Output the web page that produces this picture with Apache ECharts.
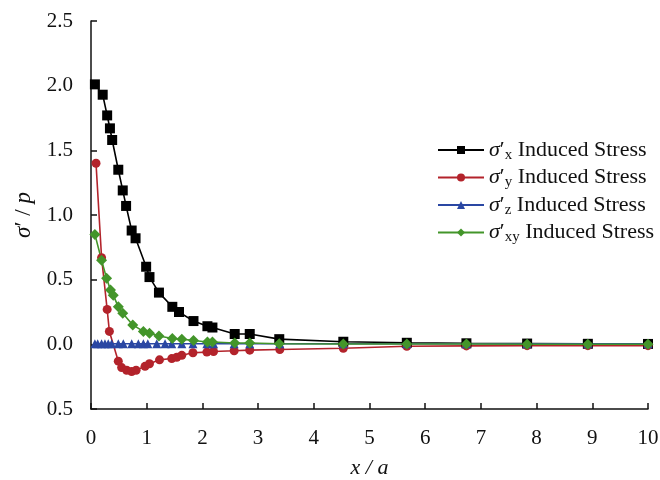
<!DOCTYPE html>
<html>
<head>
<meta charset="utf-8">
<script src="https://cdn.jsdelivr.net/npm/echarts@6/dist/echarts.min.js"></script>
<style>html,body{margin:0;padding:0;background:#fff}#main{width:660px;height:480px}</style>
</head>
<body>
<div id="main"></div>
<script>
// x/a positions and sigma'/p values
var xX = [0.07,0.21,0.29,0.34,0.38,0.49,0.57,0.63,0.73,0.80,0.99,1.05,1.22,1.46,1.58,1.84,2.09,2.18,2.58,2.85,3.38,4.53,5.67,6.74,7.83,8.92,10]
var sX = [2.01,1.93,1.77,1.67,1.58,1.35,1.19,1.07,0.88,0.82,0.60,0.52,0.40,0.29,0.25,0.18,0.14,0.13,0.08,0.08,0.04,0.02,0.012,0.008,0.006,0.004,0.003]

var xY = [0.09,0.19,0.29,0.33,0.49,0.55,0.64,0.73,0.81,0.97,1.05,1.23,1.45,1.54,1.63,1.83,2.08,2.2,2.57,2.85,3.39,4.53,5.67,6.74,7.83,8.92,10]
var sY = [1.40,0.67,0.27,0.10,-0.13,-0.18,-0.20,-0.21,-0.20,-0.17,-0.15,-0.12,-0.11,-0.10,-0.085,-0.065,-0.06,-0.055,-0.05,-0.045,-0.04,-0.03,-0.015,-0.012,-0.01,-0.01,-0.01]

var xZ = [0.07,0.12,0.19,0.25,0.31,0.37,0.49,0.58,0.73,0.85,0.94,1.02,1.18,1.33,1.45,1.63,1.83,2.08,2.2,2.57,2.85,3.39,4.53,5.67,6.74,7.83,8.92,10]
var sZ = [0.005,0.005,0.005,0.005,0.005,0.005,0.005,0.005,0.005,0.005,0.005,0.005,0.005,0.005,0.005,0.005,0.005,0.005,0.005,0.005,0.005,0.005,0.005,0.005,0.005,0.005,0.005,0.005]

var xXY = [0.07,0.19,0.28,0.35,0.40,0.49,0.57,0.75,0.94,1.05,1.22,1.46,1.63,1.84,2.09,2.18,2.58,2.85,3.38,4.53,5.67,6.74,7.83,8.92,10]
var sXY = [0.85,0.65,0.51,0.42,0.38,0.29,0.24,0.15,0.10,0.085,0.065,0.045,0.04,0.03,0.018,0.018,0.01,0.01,0.005,0.003,0.002,0.002,0.001,0.001,0.001]

var yTicks = ['0.5','0.0','0.5','1.0','1.5','2.0','2.5']
var subs = {sx: 'x', sy: 'y', sz: 'z', sxy: 'xy'}

function pairs(xs, ys) {
    var out = []
    for (var i = 0; i < xs.length; i++) out.push([xs[i], ys[i]])
    return out
}

var font = 'Liberation Serif'
var myChart = echarts.init(document.getElementById('main'))

function line(name, xs, ys, color, symbol, size) {
    return {
        name: name,
        type: 'line',
        data: pairs(xs, ys),
        symbol: symbol,
        symbolSize: size,
        lineStyle: {color: color, width: 1.6},
        itemStyle: {color: color},
        animation: false
    }
}

option = {
    backgroundColor: '#fff',
    grid: {left: 91, right: 12, top: 21, bottom: 71, containLabel: false, outerBoundsMode: 'none'},
    legend: {
        orient: 'vertical',
        left: 432,
        top: 134,
        itemWidth: 46,
        itemHeight: 10,
        itemGap: 4,
        data: ['sx', 'sy', 'sz', 'sxy'],
        formatter: function (n) {
            return '{s|σ}{p|′}{b|' + subs[n] + '} Induced Stress'
        },
        textStyle: {
            fontFamily: font, fontSize: 22, color: '#111',
            rich: {
                s: {fontFamily: font, fontSize: 22, fontStyle: 'italic', color: '#111'},
                p: {fontFamily: font, fontSize: 22, color: '#111'},
                b: {fontFamily: font, fontSize: 15, color: '#111', verticalAlign: 'bottom', padding: [10, 0, 0, 0]}
            }
        }
    },
    xAxis: {
        type: 'value',
        min: 0, max: 10, interval: 1,
        name: 'x / a',
        nameLocation: 'middle',
        nameGap: 48,
        nameTextStyle: {fontFamily: font, fontSize: 22, fontStyle: 'italic', color: '#111'},
        axisLine: {onZero: false, lineStyle: {color: '#111', width: 1.5}},
        axisTick: {inside: true, length: 6, lineStyle: {color: '#111', width: 1.5}},
        axisLabel: {fontFamily: font, fontSize: 21, color: '#111', margin: 19},
        splitLine: {show: false}
    },
    yAxis: {
        type: 'value',
        min: -0.5, max: 2.5, interval: 0.5,
        name: '{i|σ}′ / {i|p}',
        nameLocation: 'middle',
        nameRotate: 90,
        nameGap: 50,
        nameTextStyle: {
            fontFamily: font, fontSize: 23, color: '#111',
            rich: {i: {fontFamily: font, fontSize: 23, fontStyle: 'italic', color: '#111'}}
        },
        axisLine: {show: true, onZero: false, lineStyle: {color: '#111', width: 1.5}},
        axisTick: {show: true, inside: true, length: 6, lineStyle: {color: '#111', width: 1.5}},
        axisLabel: {
            fontFamily: font, fontSize: 21, color: '#111', margin: 18,
            formatter: function (v) { return yTicks[Math.round((v + 0.5) / 0.5)] }
        },
        splitLine: {show: false}
    },
    series: [
        line('sx', xX, sX, '#000000', 'rect', 10),
        line('sy', xY, sY, '#b3232b', 'circle', 9),
        line('sz', xZ, sZ, '#2a47a3', 'triangle', 9),
        line('sxy', xXY, sXY, '#43952a', 'diamond', 11)
    ]
}
myChart.setOption(option)
</script>
</body>
</html>
